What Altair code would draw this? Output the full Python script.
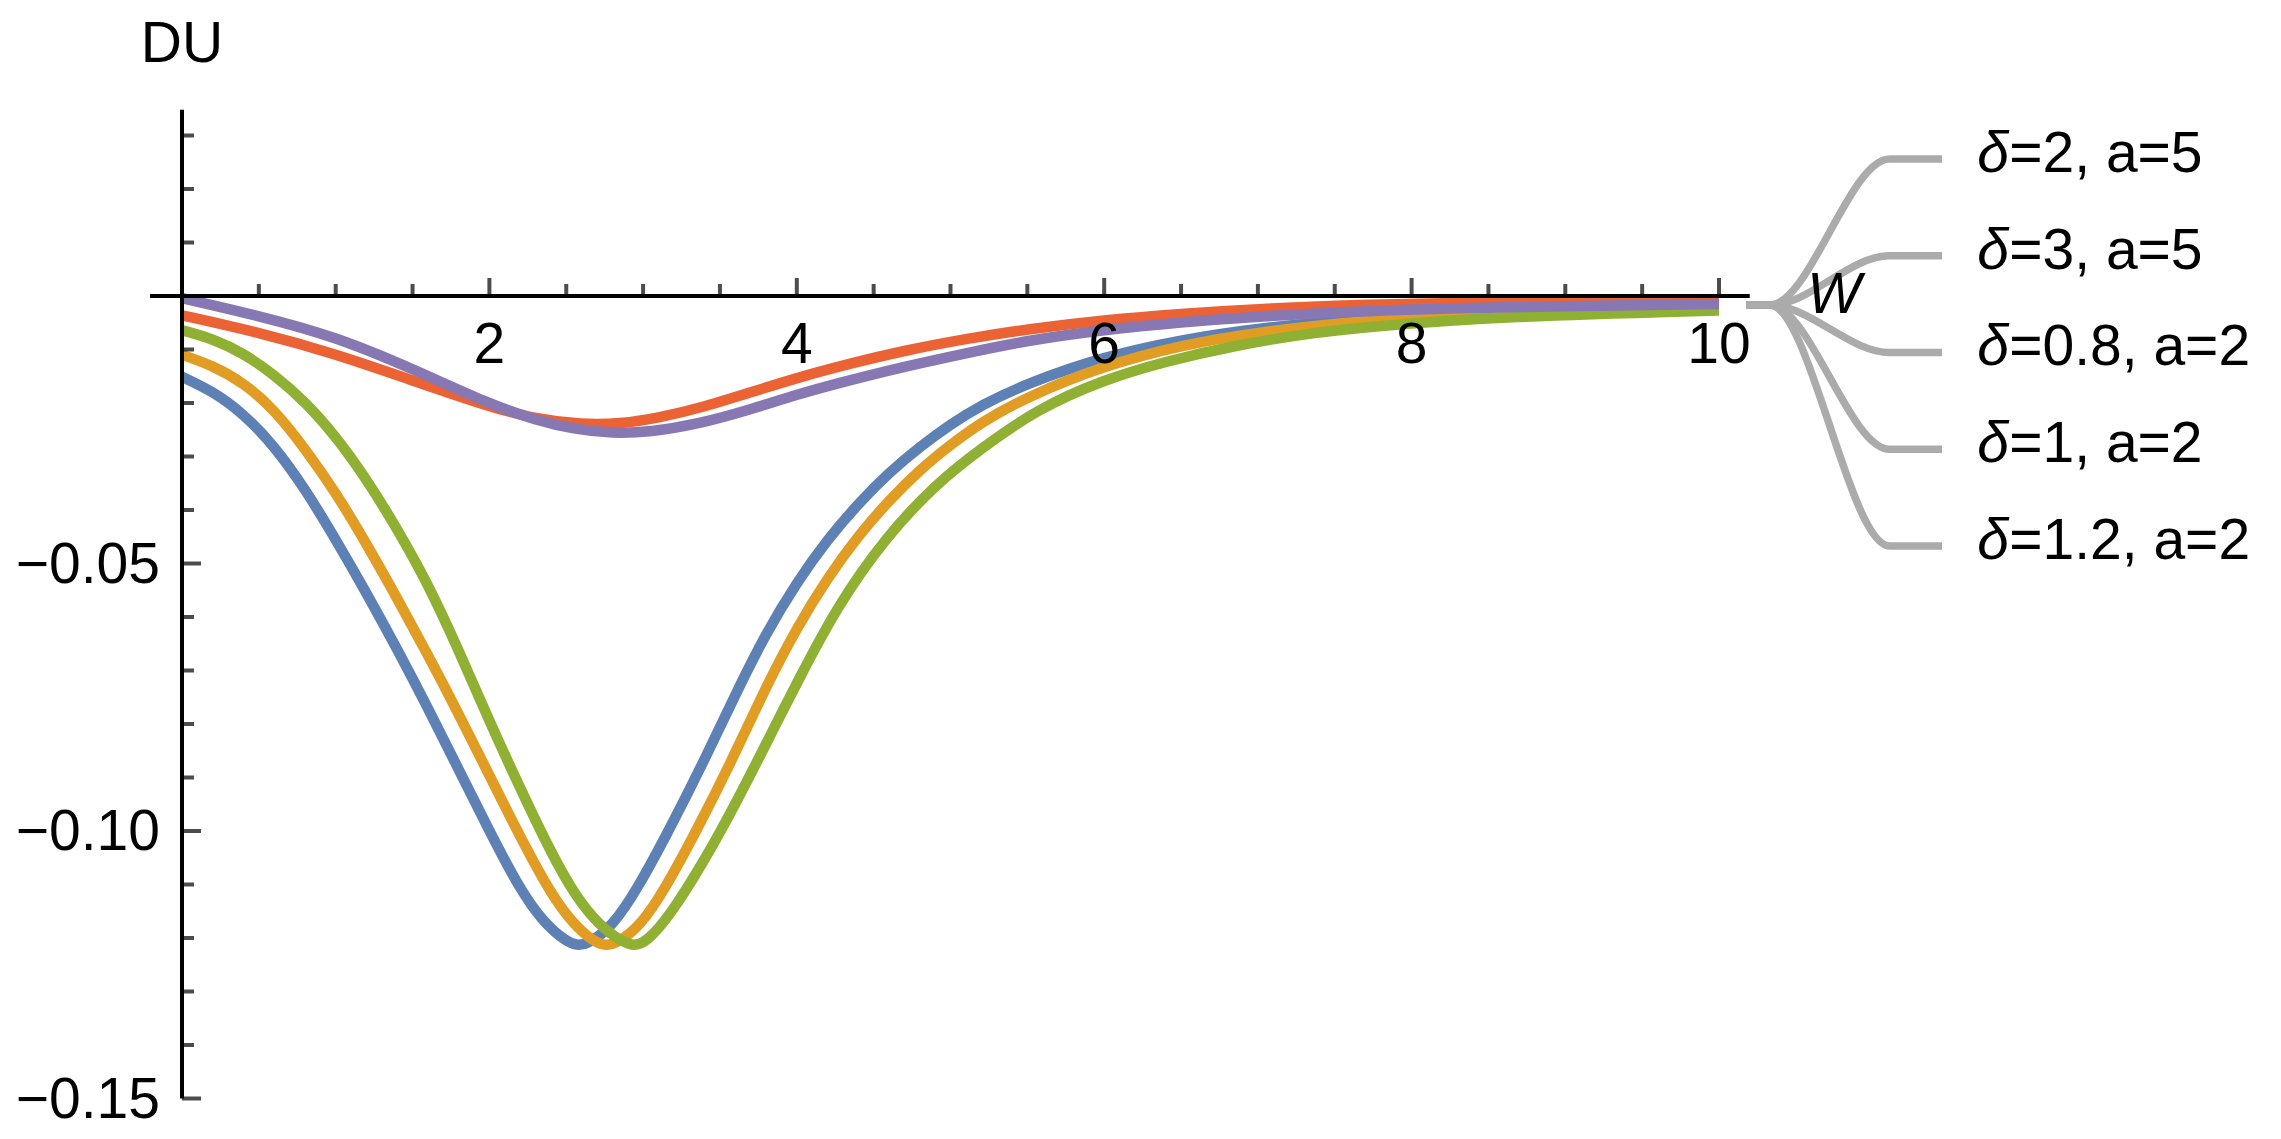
import altair as alt
import pandas as pd

# ---------------- data ----------------
labels = ["δ=2, a=5", "δ=3, a=5", "δ=0.8, a=2", "δ=1, a=2", "δ=1.2, a=2"]
colors = ["#5E81B5", "#E19C24", "#8FB032", "#EB6235", "#8778B3"]

w_blue = [0, 0.2, 0.4, 0.6, 0.8, 1.0, 1.2, 1.4, 1.6, 1.8, 2.0, 2.2, 2.35, 2.5, 2.58, 2.66, 2.8,
          2.96, 3.17, 3.39, 3.6, 3.8, 4.0, 4.2, 4.4, 4.6, 4.8, 5.0, 5.2, 5.5, 6.0, 6.5, 7.0,
          7.73, 8.5, 10]
du_blue = [-0.0151, -0.0178, -0.0220, -0.0280, -0.0360, -0.0455, -0.0555, -0.0660, -0.0770,
           -0.0885, -0.1000, -0.1110, -0.1170, -0.1207, -0.1215, -0.1208, -0.1178, -0.1110,
           -0.0998, -0.0873, -0.0745, -0.0630, -0.0535, -0.0455, -0.0388, -0.0330, -0.0282,
           -0.0240, -0.0204, -0.0163, -0.0113, -0.0082, -0.0060, -0.0040, -0.0028, -0.0019]

w_orange = [0, 0.2, 0.4, 0.6, 0.8, 1.0, 1.2, 1.4, 1.6, 1.8, 2.0, 2.2, 2.4, 2.55, 2.68, 2.76,
            2.84, 2.98, 3.14, 3.35, 3.57, 3.8, 4.0, 4.2, 4.4, 4.6, 4.8, 5.0, 5.2, 5.5, 6.0,
            6.5, 7.0, 7.73, 8.5, 10]
du_orange = [-0.0110, -0.0130, -0.0162, -0.0212, -0.0285, -0.0367, -0.0463, -0.0565, -0.0671,
             -0.0781, -0.0896, -0.1011, -0.1118, -0.1175, -0.1207, -0.1215, -0.1208, -0.1178,
             -0.1110, -0.0998, -0.0873, -0.0730, -0.0620, -0.0527, -0.0448, -0.0382, -0.0325,
             -0.0278, -0.0236, -0.0188, -0.0130, -0.0092, -0.0067, -0.0045, -0.0031, -0.0022]

w_green = [0, 0.2, 0.4, 0.6, 0.8, 1.0, 1.2, 1.4, 1.6, 1.8, 2.0, 2.2, 2.4, 2.56, 2.71, 2.86,
           2.94, 3.02, 3.17, 3.39, 3.61, 3.83, 4.01, 4.26, 4.58, 4.91, 5.2, 5.56, 5.99, 6.4,
           6.86, 7.3, 7.73, 8.6, 10]
du_green = [-0.0064, -0.0080, -0.0107, -0.0147, -0.0197, -0.0262, -0.0342, -0.0435, -0.0538,
            -0.0662, -0.0795, -0.0920, -0.1040, -0.1122, -0.1175, -0.1207, -0.1215, -0.1208,
            -0.1160, -0.1060, -0.0945, -0.0820, -0.0718, -0.0581, -0.0450, -0.0350, -0.0285,
            -0.0212, -0.0157, -0.0122, -0.0092, -0.0071, -0.0057, -0.0038, -0.0027]

w_red = [0, 0.5, 1.0, 1.5, 2.0, 2.3, 2.6, 2.85, 3.1, 3.4, 3.7, 4.0, 4.35, 4.7, 5.1, 5.5, 6.0,
         6.5, 7.0, 7.7, 8.5, 10]
du_red = [-0.0036, -0.0068, -0.0108, -0.0158, -0.0207, -0.0230, -0.0240, -0.0239, -0.0228,
          -0.0207, -0.0180, -0.0153, -0.0126, -0.0102, -0.0080, -0.0062, -0.0045, -0.0033,
          -0.0024, -0.0016, -0.0011, -0.0007]

w_purple = [0, 0.5, 1.0, 1.5, 2.0, 2.3, 2.55, 2.8, 3.05, 3.35, 3.7, 4.0, 4.35, 4.7, 5.1, 5.5,
            6.0, 6.5, 7.0, 7.7, 8.5, 10]
du_purple = [-0.0004, -0.0037, -0.0076, -0.0136, -0.0202, -0.0232, -0.0249, -0.0257, -0.0254,
             -0.0240, -0.0212, -0.0184, -0.0157, -0.0132, -0.0107, -0.0083, -0.0063, -0.0049,
             -0.0038, -0.0028, -0.0021, -0.0015]

x_major_ticks = [2, 4, 6, 8, 10]
x_major_labels = ["2", "4", "6", "8", "10"]
x_minor_ticks = [0.5, 1, 1.5, 2.5, 3, 3.5, 4.5, 5, 5.5, 6.5, 7, 7.5, 8.5, 9, 9.5]
y_major_ticks = [-0.15, -0.10, -0.05]
y_major_labels = ["−0.15", "−0.10", "−0.05"]
y_minor_ticks = [-0.14, -0.13, -0.12, -0.11, -0.09, -0.08, -0.07, -0.06, -0.04, -0.03,
                 -0.02, -0.01, 0.01, 0.02, 0.03]

# ---------------- layout ----------------
W_PX, H_PX = 2265, 1123
X0_PX, Y0_PX = 182.0, 296.0          # page position of the origin
PX_PER_X, PX_PER_Y = 153.7, 5350.0
XMIN = (8 - X0_PX) / PX_PER_X
XMAX = XMIN + W_PX / PX_PER_X
YMAX = (Y0_PX - 8) / PX_PER_Y
YMIN = YMAX - H_PX / PX_PER_Y

X_AXIS_FROM, X_AXIS_TO = -0.208, 10.2
Y_AXIS_FROM, Y_AXIS_TO = -0.15, 0.0348

# legend rows (leader end heights, data units) and leader geometry
legend_row_y = [0.02561, 0.00752, -0.01056, -0.02864, -0.04673]
leader_start_y = -0.0017
leader_x = [10.176, 10.33, 11.11, 11.451]
legend_text_x = 11.68

FONT = "Liberation Sans"
FS = 57

xs = alt.Scale(domain=[XMIN, XMAX], nice=False, zero=False)
ys = alt.Scale(domain=[YMIN, YMAX], nice=False, zero=False)


def X(f):
    return alt.X(f, type="quantitative", scale=xs, axis=None)


def Y(f):
    return alt.Y(f, type="quantitative", scale=ys, axis=None)


# ---------------- curves ----------------
curve_data = [(w_blue, du_blue), (w_orange, du_orange), (w_green, du_green),
              (w_red, du_red), (w_purple, du_purple)]
layers = []
for lab, col, (w, du) in zip(labels, colors, curve_data):
    df = pd.DataFrame({"W": w, "DU": du})
    layers.append(
        alt.Chart(df).mark_line(color=col, strokeWidth=10.5, interpolate="basis",
                                strokeCap="butt", strokeJoin="round")
        .encode(x=X("W"), y=Y("DU"))
    )

# ---------------- axes ----------------
xaxis = alt.Chart(pd.DataFrame({"a": [X_AXIS_FROM], "b": [X_AXIS_TO], "y": [0.0]})).mark_rule(
    color="black", strokeWidth=4).encode(x=X("a"), x2="b", y=Y("y"))
yaxis = alt.Chart(pd.DataFrame({"x": [0.0], "a": [Y_AXIS_FROM], "b": [Y_AXIS_TO]})).mark_rule(
    color="black", strokeWidth=4).encode(x=X("x"), y=Y("a"), y2="b")

xmaj = alt.Chart(pd.DataFrame({"t": x_major_ticks, "y": [0.0] * len(x_major_ticks)})).mark_tick(
    orient="vertical", size=18, thickness=4, yOffset=-9, color="black").encode(x=X("t"), y=Y("y"))
xmin_ = alt.Chart(pd.DataFrame({"t": x_minor_ticks, "y": [0.0] * len(x_minor_ticks)})).mark_tick(
    orient="vertical", size=12, thickness=4, yOffset=-6, color="black").encode(x=X("t"), y=Y("y"))
ymaj = alt.Chart(pd.DataFrame({"t": y_major_ticks, "x": [0.0] * len(y_major_ticks)})).mark_tick(
    orient="horizontal", size=19, thickness=4, xOffset=9.5, color="black").encode(x=X("x"), y=Y("t"))
ymin_ = alt.Chart(pd.DataFrame({"t": y_minor_ticks, "x": [0.0] * len(y_minor_ticks)})).mark_tick(
    orient="horizontal", size=12, thickness=4, xOffset=6, color="black").encode(x=X("x"), y=Y("t"))

xlab = alt.Chart(pd.DataFrame({"t": x_major_ticks, "s": x_major_labels,
                               "y": [0.0] * len(x_major_ticks)})).mark_text(
    font=FONT, fontSize=FS, align="center", baseline="alphabetic", dy=67, color="black"
).encode(x=X("t"), y=Y("y"), text="s:N")
ylab = alt.Chart(pd.DataFrame({"t": y_major_ticks, "s": y_major_labels,
                               "x": [0.0] * len(y_major_ticks)})).mark_text(
    font=FONT, fontSize=FS, align="right", baseline="alphabetic", dx=-22, dy=19, color="black"
).encode(x=X("x"), y=Y("t"), text="s:N")

du_title = alt.Chart(pd.DataFrame({"x": [0.0], "y": [YMAX], "s": ["DU"]})).mark_text(
    font=FONT, fontSize=FS, align="center", baseline="alphabetic", dy=54, color="black"
).encode(x=X("x"), y=Y("y"), text="s:N")
w_title = alt.Chart(pd.DataFrame({"x": [10.75], "y": [0.0], "s": ["W"]})).mark_text(
    font=FONT, fontSize=FS, fontStyle="italic", align="center", baseline="alphabetic", dy=17,
    color="black"
).encode(x=X("x"), y=Y("y"), text="s:N")

# ---------------- legend with leader lines ----------------
lead_rows = []
for lab, ly in zip(labels, legend_row_y):
    pts = [(leader_x[0], leader_start_y), (leader_x[1], leader_start_y),
           (leader_x[2], ly), (leader_x[3], ly)]
    for i, (px, py) in enumerate(pts):
        lead_rows.append({"lab": lab, "i": i, "x": px, "y": py})
leaders = alt.Chart(pd.DataFrame(lead_rows)).mark_line(
    color="#ababab", strokeWidth=7.5, interpolate="monotone", strokeCap="butt"
).encode(x=X("x"), y=Y("y"), detail="lab:N", order="i:Q")

leg_df = pd.DataFrame({"x": [legend_text_x] * len(labels), "y": legend_row_y,
                       "d": [l[0] for l in labels], "r": [l[1:] for l in labels]})
leg_delta = alt.Chart(leg_df).mark_text(
    font=FONT, fontSize=FS, fontStyle="italic", align="left", baseline="alphabetic", dy=13,
    color="black").encode(x=X("x"), y=Y("y"), text="d:N")
leg_rest = alt.Chart(leg_df).mark_text(
    font=FONT, fontSize=FS, align="left", baseline="alphabetic", dx=32, dy=13,
    color="black").encode(x=X("x"), y=Y("y"), text="r:N")

chart = alt.layer(
    *layers, xaxis, yaxis, xmaj, xmin_, ymaj, ymin_, xlab, ylab, du_title, leaders, w_title,
    leg_delta, leg_rest
).properties(
    width=W_PX, height=H_PX, autosize="none", padding=0, background="white"
).configure_view(stroke=None)

chart.save("out.html", embed_options={"renderer": "svg", "actions": False})
